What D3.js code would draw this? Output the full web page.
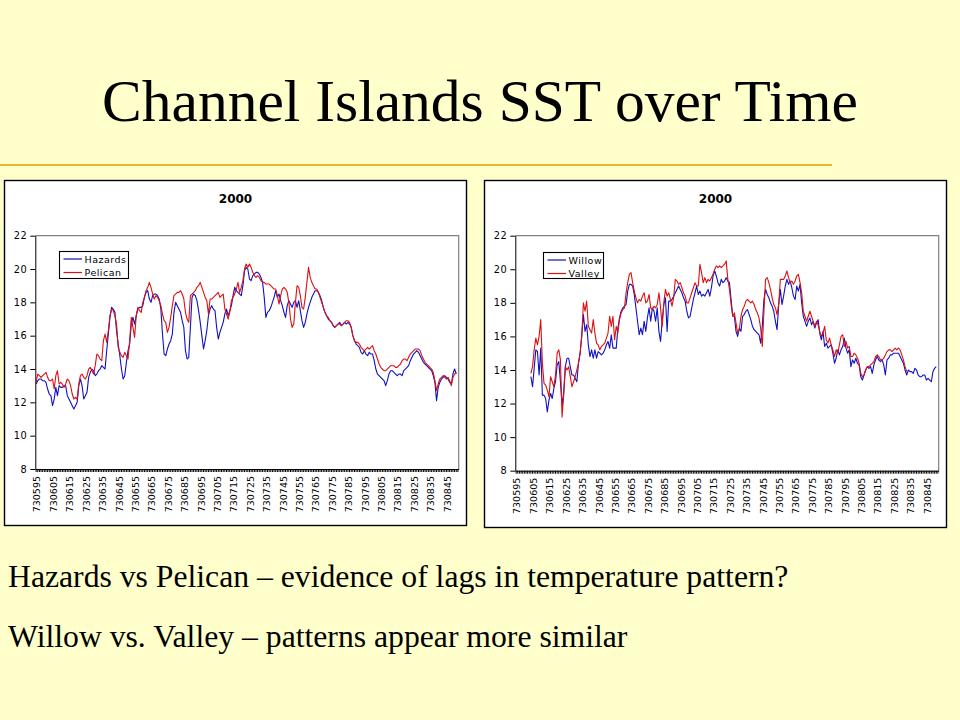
<!DOCTYPE html>
<html><head><meta charset="utf-8">
<script src="https://cdn.jsdelivr.net/npm/d3@7"></script>
<style>
html,body{margin:0;padding:0;background:#FFFFCC;}
svg{display:block;}
</style></head><body>
<svg id="c" width="960" height="720"></svg>
<script>
// ---- data ----
const categories = d3.range(730595, 730853).map(String); // day numbers on the category axis
const tickLabels = ["730595","730605","730615","730625","730635","730645","730655","730665","730675","730685","730695","730705","730715","730725","730735","730745","730755","730765","730775","730785","730795","730805","730815","730825","730835","730845"];
const yTicks = [8,10,12,14,16,18,20,22];

const hazards = [
13.1,13.3,13.4,13.4,13.3,13.3,13.2,12.8,12.5,12.4,
11.8,12.2,12.9,12.4,13.0,12.9,12.9,13.0,13.0,12.4,
12.2,12.0,11.8,11.6,11.8,12.0,13.0,13.4,13.0,12.2,
12.4,12.6,13.5,13.8,14.0,13.9,13.6,13.7,13.9,14.0,
14.2,14.1,14.0,15.1,16.1,17.1,17.7,17.6,17.4,16.3,
15.5,14.8,14.0,13.4,13.6,14.4,15.1,15.5,16.7,17.1,
16.7,17.2,17.6,17.7,17.7,17.8,18.3,18.6,18.7,18.2,
18.0,18.4,18.5,18.5,18.4,18.2,17.6,16.1,14.9,14.8,
15.2,15.5,15.7,16.1,17.4,18.0,17.8,17.6,17.4,16.9,
16.5,15.1,14.6,14.7,16.5,18.3,18.5,18.4,18.1,17.5,
16.8,16.0,15.2,15.7,16.3,17.2,17.6,17.8,17.6,17.5,
16.5,15.8,16.2,16.5,16.8,17.3,17.6,17.2,17.5,17.8,
18.4,18.9,18.7,18.6,18.5,18.4,19.0,19.9,20.1,20.0,
19.4,
19.3,19.6,19.7,19.8,19.8,19.7,19.5,19.2,18.3,17.1,
17.4,17.5,17.7,18.0,18.3,18.7,18.3,18.5,18.1,17.8,
17.4,17.1,17.8,18.1,17.9,17.7,18.0,18.1,17.7,18.1,
17.5,16.9,16.5,16.8,17.3,17.7,18.0,18.3,18.5,18.7,
18.7,18.6,18.4,18.1,17.7,17.4,17.2,17.0,16.9,16.8,
16.6,16.5,16.6,16.7,16.8,16.6,16.7,16.8,16.7,16.8,
16.7,16.5,16.0,15.7,15.5,15.4,15.3,15.0,14.9,15.1,
14.9,14.8,15.0,14.9,14.9,14.5,14.0,13.7,13.6,13.5,
13.4,13.3,13.0,13.3,13.7,13.9,13.9,13.8,13.7,13.6,
13.7,13.7,13.6,13.9,14.0,14.1,14.2,14.5,14.7,14.9,
15.0,15.1,15.0,14.8,14.6,14.4,14.3,14.2,14.1,14.0,
13.9,13.6,13.2,12.1,12.9,13.2,13.4,13.5,13.6,13.5,
13.4,13.2,13.1,13.7,14.0,13.7
];

const pelican = [
13.2,13.7,13.6,13.5,13.6,13.7,13.8,13.5,13.3,13.3,
13.4,12.8,13.6,13.9,13.1,13.2,13.1,12.9,13.1,13.4,
13.3,13.0,12.5,12.2,12.3,12.2,13.1,13.6,13.7,13.5,
13.4,13.6,14.0,14.1,13.9,13.7,14.2,14.9,14.8,14.6,
14.5,15.7,16.1,15.6,16.3,17.2,17.6,17.5,17.2,16.7,
15.3,15.0,14.8,14.7,15.0,14.8,14.6,15.7,17.1,16.5,
15.9,17.2,17.7,17.5,17.4,18.0,18.3,18.7,18.9,19.2,
18.9,18.5,18.2,18.4,18.3,18.1,17.8,17.3,16.9,16.8,
16.2,16.5,17.1,17.8,18.4,18.5,18.6,18.6,18.7,18.5,
18.2,17.4,17.0,16.8,18.4,18.5,18.6,18.7,18.9,19.0,
19.2,18.9,18.6,18.3,18.1,17.3,18.2,18.2,18.3,18.4,
18.5,18.6,18.3,18.4,18.5,17.6,17.3,17.0,17.4,18.1,
18.3,18.5,18.8,19.2,18.6,18.9,19.3,20.0,20.3,20.1,
20.3,
20.1,19.8,19.6,19.5,19.6,19.5,19.3,19.2,19.2,19.1,
19.1,19.1,19.0,18.9,18.8,18.8,18.4,17.9,18.4,18.8,
18.9,18.8,18.6,18.0,17.0,16.5,16.7,18.0,19.0,18.9,
18.4,17.7,17.6,18.3,19.2,20.1,19.5,19.2,19.0,18.8,
18.8,18.6,18.3,18.0,17.7,17.4,17.2,17.1,16.9,16.8,
16.6,16.5,16.6,16.7,16.7,16.6,16.7,16.8,16.9,16.9,
16.8,16.5,16.0,15.7,15.6,15.6,15.5,15.3,15.2,15.1,
15.2,15.3,15.2,15.3,15.4,15.1,14.9,14.6,14.3,14.1,
14.0,13.9,13.9,14.0,14.1,14.2,14.2,14.2,14.1,14.1,
14.2,14.3,14.5,14.6,14.6,14.5,14.7,14.9,15.0,15.1,
15.2,15.2,15.2,15.1,14.8,14.6,14.4,14.3,14.2,14.1,
14.0,13.8,13.3,12.7,13.1,13.4,13.5,13.6,13.5,13.4,
13.5,13.3,13.0,13.5,13.7,13.8
];

const willow = [
null,null,null,null,null,null,null,null,null,
13.6,13.0,14.1,15.2,15.1,13.7,15.3,12.5,12.5,12.3,11.5,
12.2,12.6,12.3,12.9,13.3,14.3,14.5,13.3,11.9,12.7,
14.2,14.7,14.7,14.2,13.7,13.7,13.5,13.3,14.4,15.0,
16.1,17.3,16.3,16.7,15.5,14.8,15.2,14.7,15.2,14.7,
15.1,15.0,14.9,15.0,15.2,15.5,15.7,15.3,16.1,15.3,
15.3,15.3,16.5,17.1,17.5,17.7,17.8,17.9,18.7,19.1,
19.1,19.0,18.5,17.7,16.9,16.1,16.5,16.1,16.9,16.3,
17.1,17.7,16.9,17.7,17.5,16.9,17.7,16.3,15.7,16.9,
17.9,18.3,16.3,18.1,18.1,18.2,18.4,18.6,18.8,19.0,
18.8,18.6,18.3,18.1,17.5,17.1,17.2,17.7,18.2,18.6,
19.0,18.5,18.7,18.4,18.5,18.4,18.6,18.8,18.4,18.9,
19.6,19.9,19.6,19.2,19.0,19.4,19.2,19.3,19.5,19.3,
19.2,
18.2,17.2,17.2,16.3,16.0,16.5,16.3,17.2,17.3,17.5,
17.6,17.3,17.0,16.6,16.4,16.3,16.2,16.1,15.6,16.6,
18.2,18.8,18.5,18.3,18.0,17.8,17.5,16.9,16.4,17.9,
18.8,17.9,18.4,19.0,19.4,19.1,19.3,18.9,18.4,18.2,
19.0,18.7,19.1,18.0,17.2,16.9,16.6,16.9,17.1,16.7,
16.9,16.5,16.8,17.0,16.2,15.8,16.3,15.4,15.6,15.3,
15.4,15.5,15.0,14.4,14.7,15.2,14.9,15.2,15.4,15.9,
15.3,15.0,15.2,14.2,14.6,14.4,14.7,14.4,14.3,13.6,
13.4,13.7,14.0,14.2,14.1,14.2,13.8,14.3,14.6,14.8,
14.6,14.5,14.6,14.3,13.7,14.6,14.7,14.9,14.9,15.0,
15.0,15.0,15.0,14.8,14.6,14.4,14.0,13.7,14.0,13.9,
13.9,13.8,14.1,14.0,13.7,13.6,13.6,13.7,13.7,13.4,
13.5,13.4,13.3,13.9,14.1,14.2
];

const valley = [
null,null,null,null,null,null,null,null,null,
13.8,14.2,15.2,15.9,15.5,16.0,17.0,14.4,13.2,13.1,12.8,
12.4,13.6,13.3,13.0,13.7,15.0,15.2,14.6,11.2,12.5,
14.2,14.0,14.2,13.6,13.0,13.3,13.6,14.0,14.4,15.0,
16.0,18.0,17.5,18.1,16.6,16.4,16.2,17.0,16.2,15.6,
15.5,15.2,15.4,15.5,15.6,15.9,16.2,17.2,16.6,17.2,
15.8,16.6,16.2,17.0,17.4,17.6,17.7,18.6,19.2,19.7,
19.8,19.2,18.7,18.3,18.0,18.2,18.1,18.4,18.6,18.0,
18.1,18.5,17.7,17.6,17.8,17.7,17.9,18.6,17.7,16.6,
18.0,18.8,18.4,18.6,18.2,17.8,18.3,19.4,19.3,19.1,
19.2,18.9,18.6,18.4,18.0,18.0,18.3,18.6,18.9,19.2,
19.0,19.0,20.3,19.8,19.2,19.5,19.2,19.4,19.3,19.5,
19.7,20.0,20.2,20.1,20.2,20.1,20.2,20.3,20.5,19.4,
18.8,
17.9,17.2,17.4,16.8,16.2,16.4,17.2,17.6,17.8,18.1,
18.2,18.1,18.0,18.1,17.9,17.6,17.4,17.1,16.5,15.4,
17.5,19.4,19.5,19.2,18.8,18.3,17.9,17.7,17.3,17.9,
19.4,19.4,19.4,19.6,19.9,19.5,19.2,19.3,19.1,19.3,
19.6,19.7,19.2,18.6,17.5,17.2,16.9,17.2,17.5,17.2,
16.9,16.6,16.9,16.7,16.3,16.0,16.2,16.6,15.8,15.6,
15.9,15.5,15.2,14.8,15.2,15.0,15.5,16.0,16.1,15.4,
15.7,15.3,15.4,14.8,14.8,15.0,14.9,14.7,14.4,13.8,
13.6,13.7,14.0,14.2,14.2,14.3,14.4,14.5,14.8,14.9,
14.8,14.6,14.6,14.7,14.9,15.1,15.2,15.2,15.1,15.2,
15.3,15.2,15.3,15.2,14.9,14.6,14.2,13.9
];

// ---- drawing ----
const svg = d3.select("#c");
const BLUE = "#1010c4", RED = "#dc1010";

svg.append("text").attr("x", 480).attr("y", 121).attr("text-anchor", "middle")
  .style("font-family", "'Liberation Serif','Times New Roman',serif").style("font-size", "59.5px")
  .attr("fill", "#000").text("Channel Islands SST over Time");

svg.append("line").attr("x1", 0).attr("x2", 832).attr("y1", 165).attr("y2", 165)
  .attr("stroke", "#E8B430").attr("stroke-width", 2);

function drawChart(cfg) {
  const g = svg.append("g");
  g.append("rect").attr("x", cfg.bx).attr("y", cfg.by).attr("width", cfg.bw).attr("height", cfg.bh)
    .attr("fill", "#fff").attr("stroke", "#000").attr("stroke-width", 1.4);

  const x = d3.scaleBand().domain(categories).range([cfg.px0, cfg.px1]);
  const y = d3.scaleLinear().domain([8, 22]).range([cfg.py1, cfg.py0]);

  // plot frame (top / right grey)
  g.append("path").attr("d", `M${cfg.px0},${cfg.py0}H${cfg.px1}V${cfg.py1}`)
    .attr("fill", "none").attr("stroke", "#808080").attr("stroke-width", 1.2);

  // title
  g.append("text").attr("x", (cfg.bx + cfg.bx + cfg.bw) / 2).attr("y", 202.5).attr("text-anchor", "middle")
    .style("font-family", "'DejaVu Sans',sans-serif").style("font-weight", "bold").style("font-size", "12px")
    .text(cfg.title);

  // y axis
  const ya = g.append("g").attr("transform", `translate(${cfg.px0},0)`)
    .call(d3.axisLeft(y).tickValues(yTicks).tickSize(5).tickSizeOuter(0).tickPadding(3));
  ya.select(".domain").attr("stroke", "#000");
  ya.selectAll("line").attr("stroke", "#000");
  ya.selectAll("text").style("font-family", "'DejaVu Sans',sans-serif").style("font-size", "9.8px")
    .style("letter-spacing", "0.5px").attr("fill", "#000");

  // x axis
  const xa = g.append("g").attr("transform", `translate(0,${cfg.py1})`)
    .call(d3.axisBottom(x).tickSize(3).tickSizeOuter(0)
      .tickFormat(d => tickLabels.includes(d) ? d : ""));
  xa.select(".domain").attr("stroke", "#000");
  xa.selectAll("line").attr("stroke", "#000");
  xa.selectAll("text").attr("transform", "rotate(-90)").attr("x", -7).attr("y", 1).attr("dy", "0.35em")
    .style("text-anchor", "end").style("font-family", "'DejaVu Sans',sans-serif").style("font-size", "9.5px")
    .attr("fill", "#000");

  // lines
  cfg.series.forEach(s => {
    const line = d3.line().defined(d => d != null)
      .x((d, i) => x(categories[i]) + x.bandwidth() / 2).y(d => y(d));
    g.append("path").datum(s.values).attr("d", line).attr("fill", "none")
      .attr("stroke", s.color).attr("stroke-width", 1.1).attr("stroke-linejoin", "round");
  });

  // legend
  const L = cfg.legend;
  g.append("rect").attr("x", L.x).attr("y", L.y).attr("width", L.w).attr("height", L.h)
    .attr("fill", "#fff").attr("stroke", "#000").attr("stroke-width", 1.1);
  cfg.series.forEach((s, k) => {
    const yy = L.y + 7.5 + k * 13.5;
    g.append("line").attr("x1", L.x + 4).attr("x2", L.x + 22.5).attr("y1", yy).attr("y2", yy)
      .attr("stroke", s.color).attr("stroke-width", 1.2);
    g.append("text").attr("x", L.x + 25).attr("y", yy + 3.6)
      .style("font-family", "'DejaVu Sans',sans-serif").style("font-size", "9.5px")
      .style("letter-spacing", "0.5px").text(s.name);
  });
}

drawChart({
  bx: 4.5, by: 180.5, bw: 462, bh: 345,
  px0: 35.3, px1: 458.7, py0: 235.7, py1: 469,
  title: "2000",
  legend: {x: 59.5, y: 251.5, w: 69, h: 27},
  series: [{name: "Hazards", values: hazards, color: BLUE}, {name: "Pelican", values: pelican, color: RED}]
});
drawChart({
  bx: 484.5, by: 180.5, bw: 462, bh: 347,
  px0: 515.3, px1: 938.7, py0: 235.7, py1: 470.7,
  title: "2000",
  legend: {x: 543.5, y: 252.5, w: 60, h: 26},
  series: [{name: "Willow", values: willow, color: BLUE}, {name: "Valley", values: valley, color: RED}]
});

const body = svg.append("g").style("font-family", "'Liberation Serif','Times New Roman',serif")
  .style("font-size", "31.7px").attr("fill", "#000");
body.append("text").attr("x", 8).attr("y", 587).text("Hazards vs Pelican \u2013 evidence of lags in temperature pattern?");
body.append("text").attr("x", 8).attr("y", 647).text("Willow vs. Valley \u2013 patterns appear more similar");
</script>
</body></html>
